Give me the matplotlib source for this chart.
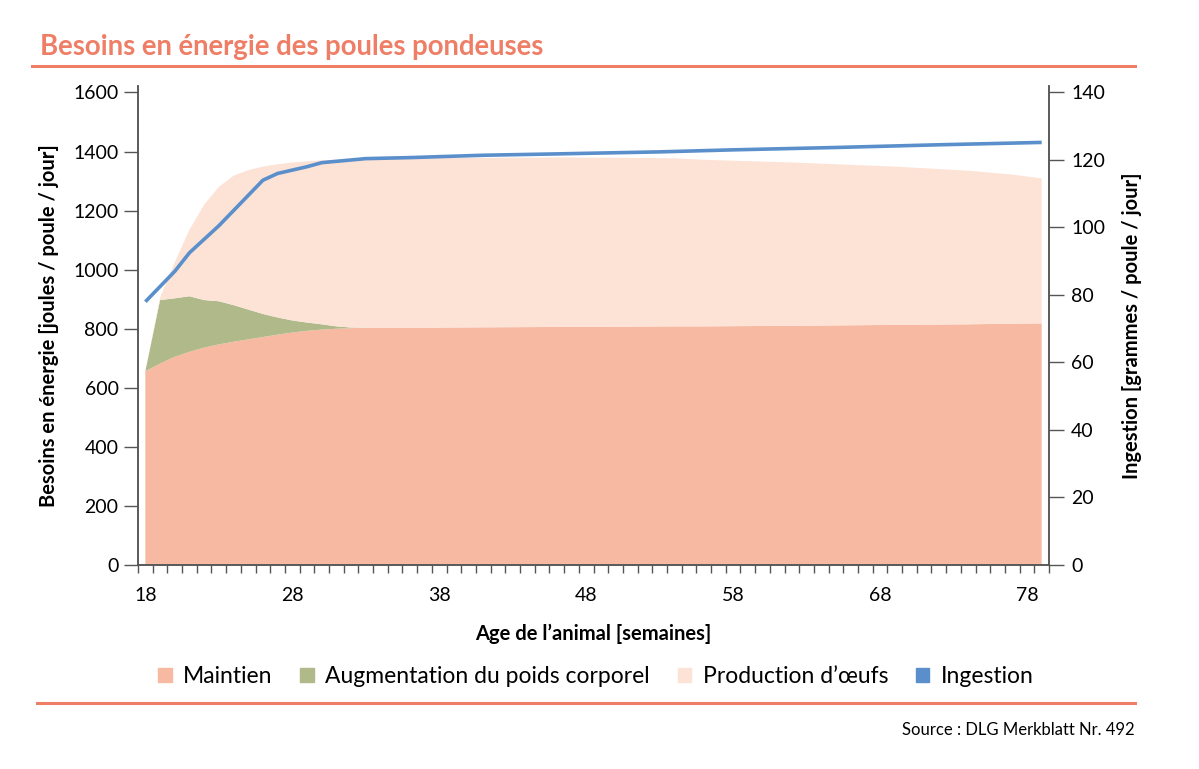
import matplotlib
matplotlib.use('Agg')
import matplotlib.pyplot as plt
from matplotlib.patches import Patch
from matplotlib.ticker import FixedLocator
import numpy as np

plt.rcParams['font.family'] = ['Lato', 'DejaVu Sans']

# semaines (axe des x)
weeks = [18, 19, 20, 21, 22, 23, 24, 25, 26, 27, 28, 29, 30, 31, 32, 33, 34,
         38, 42, 46, 50, 54, 56, 62, 69, 74, 77, 79]
# besoin d'entretien (joules / poule / jour)
maintien = [656, 682, 705, 722, 736, 747, 756, 764, 772, 780, 787, 793, 797, 800, 802, 803, 803,
            804, 805, 806, 807, 808, 808, 810, 813, 815, 817, 818]
# haut de la couche verte (maintien + croissance)
croissance_top = [656, 897, 903, 910, 897, 893, 880, 865, 850, 838, 828, 821, 815, 808, 804, 803, 803,
                  804, 805, 806, 807, 808, 808, 810, 813, 815, 817, 818]
# haut de la couche oeufs (total)
total_top = [656, 905, 1025, 1135, 1220, 1280, 1318, 1337, 1349, 1357, 1363, 1367, 1370, 1372, 1374, 1375, 1376,
             1378, 1379, 1380, 1379, 1377, 1372, 1363, 1349, 1335, 1322, 1309]

# ingestion (grammes / poule / jour)
ing_weeks = [18, 19, 20, 21, 22, 23, 24, 25, 26, 27, 28, 29, 30, 31, 33, 36, 41, 46, 53, 58, 65, 72, 79]
ingestion = [78, 82.5, 87, 92.5, 96.5, 100.5, 105, 109.5, 114, 116, 117, 118, 119.2, 119.6, 120.4,
             120.7, 121.4, 121.8, 122.4, 123.0, 123.7, 124.5, 125.2]

augmentation = np.array(croissance_top) - np.array(maintien)
production = np.array(total_top) - np.array(croissance_top)

C_MAINT = '#f7b9a2'
C_GREEN = '#afb98a'
C_EGGS = '#fde2d6'
C_ING = '#5b8fcb'
C_TITLE = '#ee7e66'
C_AXIS = '#555555'

fig = plt.figure(figsize=(11.99, 7.69), dpi=100)
ax = fig.add_axes([0.1151, 0.2653, 0.7598, 0.6229])
ax2 = ax.twinx()

ax.stackplot(weeks, maintien, augmentation, production,
             colors=[C_MAINT, C_GREEN, C_EGGS], linewidth=0)
ax2.plot(ing_weeks, ingestion, color=C_ING, lw=2.6, solid_capstyle='butt')

ax.set_xlim(17.5, 79.5)
ax.set_ylim(0, 1622)
ax2.set_ylim(0, 1622 * 140 / 1600)

ax.set_yticks(range(0, 1601, 200))
ax2.set_yticks(range(0, 141, 20))
ax.set_xticks(range(18, 79, 10))
ax.xaxis.set_minor_locator(FixedLocator(np.arange(17.5, 79.6, 1)))

for a in (ax, ax2):
    a.spines['top'].set_visible(False)
    for s in ('left', 'right', 'bottom'):
        a.spines[s].set_color(C_AXIS)
        a.spines[s].set_linewidth(1.1)

ax.tick_params(axis='x', which='major', length=0, pad=16, labelsize=14)
ax.tick_params(axis='x', which='minor', length=6, width=1, color=C_AXIS, direction='out')
ax.tick_params(axis='y', length=10, width=1, color=C_AXIS, pad=4, labelsize=14)
ax2.tick_params(axis='y', length=11, width=1, color=C_AXIS, pad=5, labelsize=14)

ax.set_xlabel('Age de l\u2019animal [semaines]', fontsize=14.5, fontweight='bold', labelpad=14)
ax.set_ylabel('Besoins en énergie [joules / poule / jour]', fontsize=14.5, fontweight='bold', labelpad=10)
ax2.set_ylabel('Ingestion [grammes / poule / jour]', fontsize=14.5, fontweight='bold', labelpad=12)

# titre et filets
fig.text(0.033, 0.928, 'Besoins en énergie des poules pondeuses', fontsize=19.8,
         fontweight='bold', color=C_TITLE, ha='left', va='baseline')
fig.add_artist(plt.Line2D([0.027, 0.947], [0.9145, 0.9145], color=C_TITLE, lw=2.2))
fig.add_artist(plt.Line2D([0.031, 0.947], [0.0858, 0.0858], color=C_TITLE, lw=2.2))

handles = [Patch(color=C_MAINT), Patch(color=C_GREEN), Patch(color=C_EGGS), Patch(color=C_ING)]
labels = ['Maintien', 'Augmentation du poids corporel', 'Production d\u2019œufs', 'Ingestion']
fig.legend(handles, labels, loc='center', bbox_to_anchor=(0.497, 0.12), ncol=4, frameon=False,
           fontsize=16.5, handlelength=0.6, handleheight=0.6, handletextpad=0.5, columnspacing=1.2)

fig.text(0.946, 0.051, 'Source : DLG Merkblatt Nr. 492', fontsize=12, ha='right', va='center')

fig.savefig('out.png', dpi=100)
